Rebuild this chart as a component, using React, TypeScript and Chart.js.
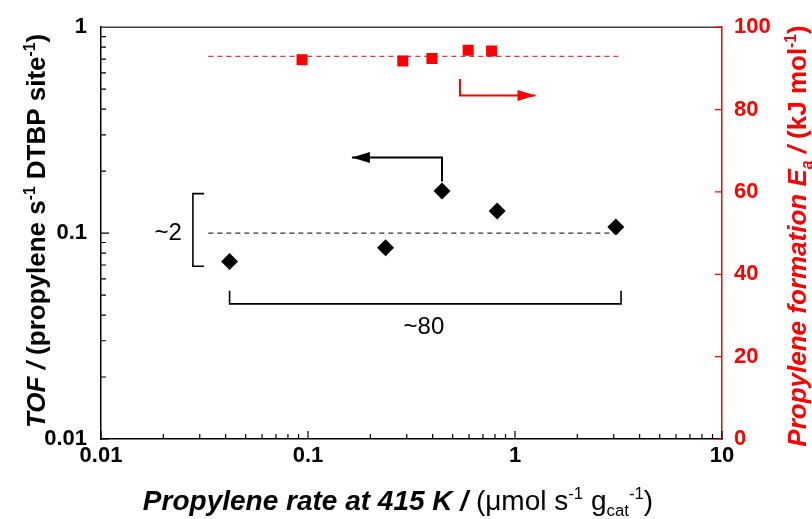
import React, { useEffect, useRef } from 'react';
import { Chart, registerables } from 'chart.js';

Chart.register(...registerables);

// ---------- data ----------
const tofRate = [0.0418, 0.237, 0.444, 0.82, 3.07];
const tofValues = [0.0727, 0.0849, 0.16, 0.128, 0.107];
const eaRate = [0.0936, 0.287, 0.397, 0.594, 0.771];
const eaValues = [92.1, 91.8, 92.4, 94.4, 94.2];

const tofMeanX = [0.033, 3.3];
const tofMeanY = [0.1, 0.1];
const eaMeanX = [0.033, 3.3];
const eaMeanY = [92.9, 92.9];

const xTicks = [0.01, 0.1, 1, 10];
const xTickLabels = ['0.01', '0.1', '1', '10'];
const yTicks = [0.01, 0.1, 1];
const yTickLabels = ['0.01', '0.1', '1'];
const eaTicks = [0, 20, 40, 60, 80, 100];
const eaTickLabels = ['0', '20', '40', '60', '80', '100'];

// annotations (data coordinates)
const tofArrowX = [0.444, 0.444, 0.163];
const tofArrowY = [0.178, 0.233, 0.233];
const eaArrowX = [0.542, 0.542, 1.256];
const eaArrowY = [87.4, 83.4, 83.4];
const yBracketX = [0.0315, 0.0278, 0.0278, 0.0315];
const yBracketY = [0.1555, 0.1555, 0.069, 0.069];
const xBracketX = [0.0418, 0.0418, 3.254, 3.254];
const xBracketY = [0.0525, 0.0453, 0.0453, 0.0525];
const noteTexts = ['~2', '~80'];
const noteX = [0.0211, 0.363];
const noteY = [0.1, 0.0349];

const FAMILY = '"Liberation Sans", Arial, Helvetica, sans-serif';
const RED = '#ff0000';

const pts = (xs: number[], ys: number[]) => xs.map((x, i) => ({ x, y: ys[i] }));

type Seg = { t: string; s: string; sup?: boolean; sub?: boolean };

function drawRich(
  ctx: CanvasRenderingContext2D,
  segs: Seg[],
  cx: number,
  cy: number,
  size: number,
  color: string,
  rot: number
) {
  ctx.save();
  ctx.translate(cx, cy);
  ctx.rotate(rot);
  ctx.fillStyle = color;
  ctx.textBaseline = 'alphabetic';
  ctx.textAlign = 'left';
  const small = size * 0.6;
  const fontOf = (g: Seg) => `${g.s} ${g.sup || g.sub ? small : size}px ${FAMILY}`;
  const widths = segs.map((g) => {
    ctx.font = fontOf(g);
    return ctx.measureText(g.t).width;
  });
  const total = widths.reduce((a, b) => a + b, 0);
  let x = -total / 2;
  const base = size * 0.36;
  segs.forEach((g, i) => {
    ctx.font = fontOf(g);
    let y = base;
    if (g.sup) y = base - size * 0.4;
    if (g.sub) y = base + size * 0.22;
    ctx.fillText(g.t, x, y);
    x += widths[i];
  });
  ctx.restore();
}

const leftTitle: Seg[] = [
  { t: 'TOF /', s: 'italic bold' },
  { t: ' (propylene s', s: 'bold' },
  { t: '-1', s: 'bold', sup: true },
  { t: ' DTBP site', s: 'bold' },
  { t: '-1', s: 'bold', sup: true },
  { t: ')', s: 'bold' },
];
const rightTitle: Seg[] = [
  { t: 'Propylene formation E', s: 'italic bold' },
  { t: 'a', s: 'italic bold', sub: true },
  { t: ' / ', s: 'italic bold' },
  { t: '(kJ mol', s: 'bold' },
  { t: '-1', s: 'bold', sup: true },
  { t: ')', s: 'bold' },
];
const bottomTitle: Seg[] = [
  { t: 'Propylene rate at 415 K /', s: 'italic bold' },
  { t: ' (\u03bcmol s', s: 'normal' },
  { t: '-1', s: 'normal', sup: true },
  { t: ' g', s: 'normal' },
  { t: 'cat', s: 'normal', sub: true },
  { t: '-1', s: 'normal', sup: true },
  { t: ')', s: 'normal' },
];

const decorPlugin = {
  id: 'decor',
  afterDraw(chart: any) {
    const ctx: CanvasRenderingContext2D = chart.ctx;
    const { left, right, top, bottom } = chart.chartArea;
    const { x, y, y1 } = chart.scales;
    ctx.save();
    // top frame line
    ctx.strokeStyle = '#404040';
    ctx.lineWidth = 1.5;
    ctx.beginPath();
    ctx.moveTo(left, top);
    ctx.lineTo(right, top);
    ctx.stroke();

    // inward ticks
    ctx.strokeStyle = '#000';
    ctx.lineWidth = 1.2;
    ctx.beginPath();
    for (let e = -2; e <= 0; e++) {
      for (let k = 1; k <= 9; k++) {
        const v = k * Math.pow(10, e);
        const px = x.getPixelForValue(v);
        const len = k === 1 ? 8 : 5;
        ctx.moveTo(px, bottom);
        ctx.lineTo(px, bottom - len);
      }
    }
    const p10 = x.getPixelForValue(10);
    ctx.moveTo(p10, bottom);
    ctx.lineTo(p10, bottom - 8);
    for (let e = -2; e <= -1; e++) {
      for (let k = 1; k <= 9; k++) {
        const v = k * Math.pow(10, e);
        const py = y.getPixelForValue(v);
        const len = k === 1 ? 8 : 5;
        ctx.moveTo(left, py);
        ctx.lineTo(left + len, py);
      }
    }
    ctx.stroke();
    ctx.strokeStyle = RED;
    ctx.beginPath();
    eaTicks.forEach((v) => {
      const py = y1.getPixelForValue(v);
      ctx.moveTo(right, py);
      ctx.lineTo(right - 7, py);
    });
    ctx.stroke();

    // arrowheads
    const head = (idx: number, color: string) => {
      const d = chart.getDatasetMeta(idx).data;
      const a = d[d.length - 2];
      const b = d[d.length - 1];
      const ang = Math.atan2(b.y - a.y, b.x - a.x);
      const L = 18;
      const H = 5.5;
      ctx.fillStyle = color;
      ctx.beginPath();
      ctx.moveTo(b.x, b.y);
      ctx.lineTo(b.x - L * Math.cos(ang) + H * Math.sin(ang), b.y - L * Math.sin(ang) - H * Math.cos(ang));
      ctx.lineTo(b.x - L * Math.cos(ang) - H * Math.sin(ang), b.y - L * Math.sin(ang) + H * Math.cos(ang));
      ctx.closePath();
      ctx.fill();
    };
    head(4, '#000');
    head(5, RED);

    // notes
    ctx.fillStyle = '#000';
    ctx.font = `24px ${FAMILY}`;
    ctx.textAlign = 'center';
    ctx.textBaseline = 'middle';
    noteTexts.forEach((t, i) => {
      ctx.fillText(t, x.getPixelForValue(noteX[i]), y.getPixelForValue(noteY[i]));
    });

    // axis titles
    drawRich(ctx, leftTitle, 36, 231, 26, '#000', -Math.PI / 2);
    drawRich(ctx, rightTitle, 797, 236, 26, RED, -Math.PI / 2);
    drawRich(ctx, bottomTitle, 398, 500, 28, '#000', 0);
    ctx.restore();
  },
};

export default function App() {
  const ref = useRef<HTMLCanvasElement | null>(null);
  useEffect(() => {
    document.body.style.margin = '0';
    if (!ref.current) return;
    const chart = new Chart(ref.current, {
      type: 'scatter',
      data: {
        datasets: [
          {
            data: pts(tofRate, tofValues),
            yAxisID: 'y',
            pointStyle: 'rectRot',
            pointRadius: 8.5,
            backgroundColor: '#000',
            borderColor: '#000',
            borderWidth: 0,
            order: 0,
          },
          {
            data: pts(eaRate, eaValues),
            yAxisID: 'y1',
            pointStyle: 'rect',
            pointRadius: 7.8,
            backgroundColor: RED,
            borderColor: RED,
            borderWidth: 0,
            order: 1,
          },
          {
            data: pts(tofMeanX, tofMeanY),
            yAxisID: 'y',
            showLine: true,
            pointRadius: 0,
            borderColor: '#333',
            borderWidth: 1.2,
            borderDash: [5, 4],
            order: 5,
          },
          {
            data: pts(eaMeanX, eaMeanY),
            yAxisID: 'y1',
            showLine: true,
            pointRadius: 0,
            borderColor: '#e23a3a',
            borderWidth: 1.2,
            borderDash: [5, 4],
            order: 5,
          },
          {
            data: pts(tofArrowX, tofArrowY),
            yAxisID: 'y',
            showLine: true,
            pointRadius: 0,
            borderColor: '#000',
            borderWidth: 2,
            borderJoinStyle: 'miter',
            order: 3,
          },
          {
            data: pts(eaArrowX, eaArrowY),
            yAxisID: 'y1',
            showLine: true,
            pointRadius: 0,
            borderColor: RED,
            borderWidth: 2,
            borderJoinStyle: 'miter',
            order: 3,
          },
          {
            data: pts(yBracketX, yBracketY),
            yAxisID: 'y',
            showLine: true,
            pointRadius: 0,
            borderColor: '#000',
            borderWidth: 1.6,
            borderJoinStyle: 'miter',
            order: 3,
          },
          {
            data: pts(xBracketX, xBracketY),
            yAxisID: 'y',
            showLine: true,
            pointRadius: 0,
            borderColor: '#000',
            borderWidth: 1.6,
            borderJoinStyle: 'miter',
            order: 3,
          },
        ],
      },
      options: {
        responsive: false,
        animation: false,
        layout: { padding: { top: 25, left: 0, right: 0, bottom: 0 } },
        plugins: { legend: { display: false }, tooltip: { enabled: false } },
        scales: {
          x: {
            type: 'logarithmic',
            position: 'bottom',
            min: 0.01,
            max: 10,
            grid: { display: false, drawTicks: false },
            border: { display: true, color: '#000', width: 1.5 },
            afterBuildTicks: (s: any) => {
              s.ticks = xTicks.map((v) => ({ value: v }));
            },
            afterFit: (s: any) => {
              s.height = 80;
            },
            ticks: {
              autoSkip: false,
              maxRotation: 0,
              minRotation: 0,
              padding: 4,
              color: '#000',
              font: { family: FAMILY, size: 22, weight: 'bold' },
              callback: (_v: any, i: number) => xTickLabels[i],
            },
          },
          y: {
            type: 'logarithmic',
            position: 'left',
            min: 0.01,
            max: 1,
            grid: { display: false, drawTicks: false },
            border: { display: true, color: '#000', width: 1.5 },
            afterBuildTicks: (s: any) => {
              s.ticks = yTicks.map((v) => ({ value: v }));
            },
            afterFit: (s: any) => {
              s.width = 101;
            },
            ticks: {
              autoSkip: false,
              padding: 14,
              color: '#000',
              font: { family: FAMILY, size: 22, weight: 'bold' },
              callback: (_v: any, i: number) => yTickLabels[i],
            },
          },
          y1: {
            type: 'linear',
            position: 'right',
            min: 0,
            max: 100,
            grid: { display: false, drawTicks: false },
            border: { display: true, color: RED, width: 1.5 },
            afterBuildTicks: (s: any) => {
              s.ticks = eaTicks.map((v) => ({ value: v }));
            },
            afterFit: (s: any) => {
              s.width = 90;
            },
            ticks: {
              autoSkip: false,
              padding: 12,
              color: RED,
              font: { family: FAMILY, size: 22, weight: 'bold' },
              callback: (_v: any, i: number) => eaTickLabels[i],
            },
          },
        },
      } as any,
      plugins: [decorPlugin],
    });
    return () => chart.destroy();
  }, []);
  return (
    <div style={{ width: 812, height: 519 }}>
      <canvas ref={ref} width={812} height={519} style={{ width: 812, height: 519, display: 'block' }} />
    </div>
  );
}
